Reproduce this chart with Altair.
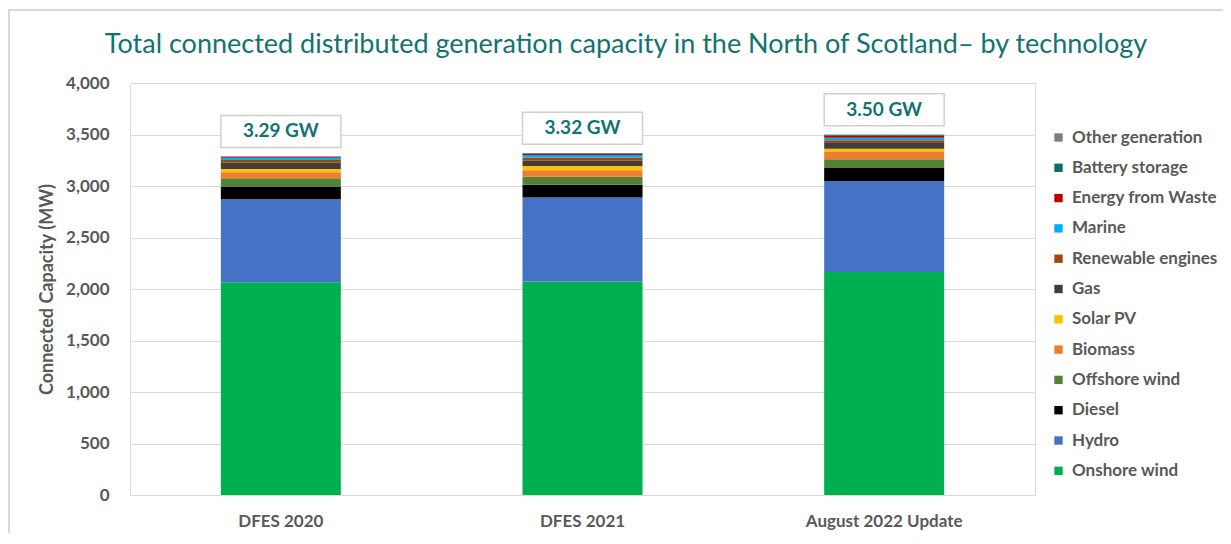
import altair as alt
import pandas as pd

title_text = ["Total connected distributed generation capacity in the North of Scotland\u2013 by technology"]
years = ["DFES 2020", "DFES 2021", "August 2022 Update"]
technologies = ["Onshore wind", "Hydro", "Diesel", "Offshore wind", "Biomass", "Solar PV",
                "Gas", "Renewable engines", "Marine", "Energy from Waste", "Battery storage",
                "Other generation"]
colors = ["#00B050", "#4472C4", "#000000", "#548235", "#ED7D31", "#FFC000",
          "#3F3F3F", "#9E480E", "#00B0F0", "#C00000", "#0E6B68", "#7F7F7F"]

onshore = [2066, 2073, 2166]
hydro = [805, 815, 883]
diesel = [123, 123, 126]
offshore = [81, 78, 84]
biomass = [58, 65, 71]
solar = [32, 39, 32]
gas = [61, 52, 55]
renew_engines = [26, 29, 26]
marine = [22, 26, 26]
efw = [10, 15, 20]
battery = [3, 3, 6]
other = [3, 2, 5]
total_labels = ["3.29 GW", "3.32 GW", "3.50 GW"]

series = [onshore, hydro, diesel, offshore, biomass, solar, gas, renew_engines,
          marine, efw, battery, other]

rows = []
for ti, (tech, vals) in enumerate(zip(technologies, series)):
    for yi, yr in enumerate(years):
        rows.append({"year": yr, "tech": tech, "value": vals[yi], "order": ti})
df = pd.DataFrame(rows)

totals = pd.DataFrame({
    "year": years,
    "total": [sum(s[i] for s in series) for i in range(len(years))],
    "label": total_labels,
})

TEAL = "#127372"
GRAY = "#595959"
FONT = "Lato"

xscale = alt.Scale(domain=years, paddingInner=0.6, paddingOuter=0.3)
yscale = alt.Scale(domain=[0, 4000])

legend_domain = technologies[::-1]
legend_range = colors[::-1]

bars = alt.Chart(df).mark_bar(size=120).encode(
    x=alt.X("year:N", scale=xscale, sort=years,
            axis=alt.Axis(title=None, labelAngle=0, labelFontSize=17, labelColor=GRAY,
                          labelFont=FONT, labelFontWeight="bold", labelPadding=18,
                          ticks=False, domainColor="#d9d9d9", grid=False)),
    y=alt.Y("value:Q", stack="zero", scale=yscale,
            axis=alt.Axis(title="Connected Capacity (MW)", values=list(range(0, 4001, 500)),
                          format=",.0f", labelFontSize=17, labelColor=GRAY, labelFont=FONT,
                          labelFontWeight="bold", labelPadding=21, ticks=False, domain=False,
                          gridColor="#d9d9d9", titleFontSize=18, titleColor=GRAY,
                          titleFont=FONT, titleFontWeight="bold", titlePadding=9)),
    color=alt.Color("tech:N", scale=alt.Scale(domain=legend_domain, range=legend_range),
                    legend=alt.Legend(title=None, orient="none", legendX=920, legendY=46,
                                      symbolType="square", symbolSize=70,
                                      symbolStrokeWidth=0, labelFontSize=17,
                                      labelFont=FONT, labelFontWeight="bold",
                                      labelColor=GRAY, rowPadding=12.3, labelOffset=5)),
    order=alt.Order("order:Q", sort="ascending"),
)

boxes = alt.Chart(totals).transform_calculate(
    lo="datum.total + 85", hi="datum.total + 395"
).mark_bar(size=120, fill="white", stroke="#d0d0d0", strokeWidth=1.5).encode(
    x=alt.X("year:N", scale=xscale, sort=years),
    y=alt.Y("lo:Q", scale=yscale),
    y2="hi:Q",
)

labels = alt.Chart(totals).transform_calculate(
    mid="datum.total + 240"
).mark_text(font=FONT, fontSize=19, fontWeight="bold", color=TEAL, baseline="middle").encode(
    x=alt.X("year:N", scale=xscale, sort=years),
    y=alt.Y("mid:Q", scale=yscale),
    text="label:N",
)

frame = alt.Chart(totals).mark_rect(fill="transparent", stroke="#d9d9d9", strokeWidth=1.5,
                                     clip=False).encode(
    x=alt.value(-121), x2=alt.value(1400), y=alt.value(-73), y2=alt.value(700)
)

title = alt.Chart(pd.DataFrame({"t": title_text})).mark_text(
    font=FONT, fontSize=27, fontWeight="normal", color=TEAL, align="center",
    baseline="middle"
).encode(x=alt.value(496), y=alt.value(-38), text="t:N")

chart = alt.layer(frame, bars, boxes, labels, title).properties(
    width=905, height=412,
    autosize=alt.AutoSizeParams(type="none"),
    padding={"left": 122, "top": 75, "right": 188, "bottom": 38},
).configure_view(stroke=None).configure(font=FONT)

chart.save("out.html", embed_options={"renderer": "svg", "actions": False})
